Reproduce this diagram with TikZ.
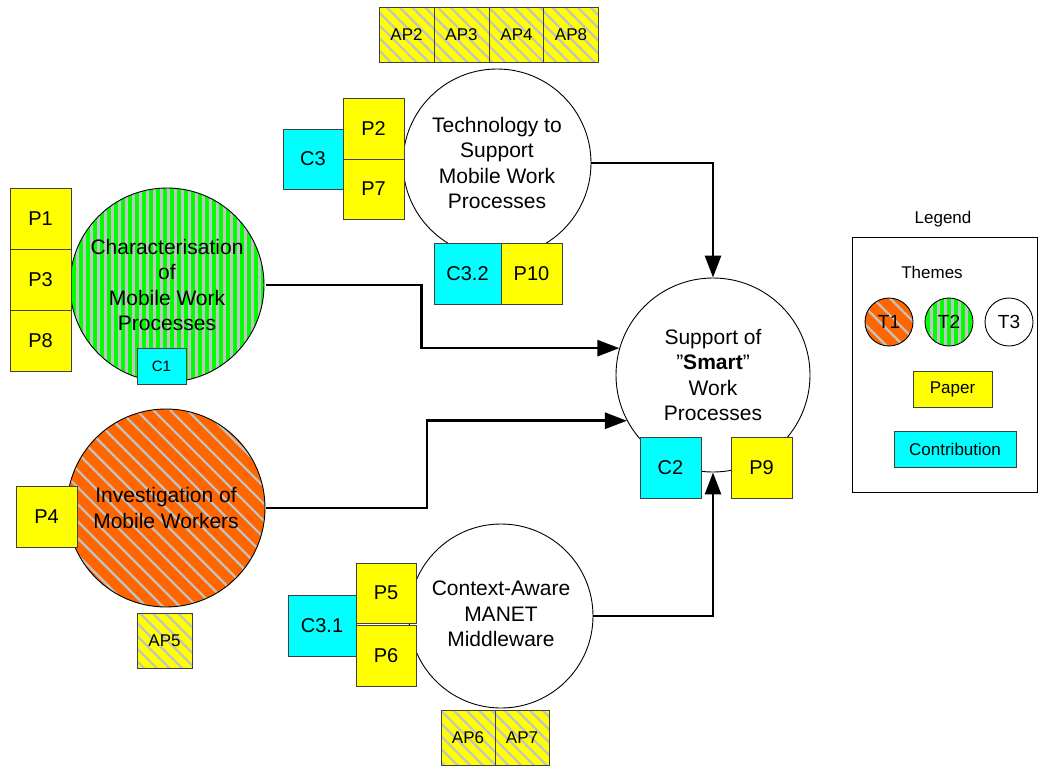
\documentclass[tikz,border=0pt]{standalone}
\usepackage{fontspec}
\setmainfont{Liberation Sans}
\usetikzlibrary{arrows.meta,patterns.meta}

\definecolor{paperyellow}{HTML}{FFFF00}
\definecolor{contribcyan}{HTML}{00FFFF}
\definecolor{themeorange}{HTML}{FF6600}
\definecolor{themegreen}{HTML}{00FF00}
\definecolor{stripegray}{HTML}{C0C4C4}
\definecolor{boxedge}{HTML}{404040}

\tikzset{
  themecircle/.style={circle, draw=black, line width=0.9pt, inner sep=0pt,
    align=center, font=\fontsize{21}{25.5}\selectfont},
  themeone/.style={themecircle, preaction={fill=themeorange},
    pattern={Lines[angle=-45,distance=12pt,line width=2.2pt]}, pattern color=stripegray},
  themetwo/.style={themecircle, preaction={fill=themegreen},
    pattern={Lines[angle=90,distance=7pt,line width=3pt]}, pattern color=stripegray},
  themethree/.style={themecircle, fill=white},
  anybox/.style={rectangle, draw=boxedge, line width=0.9pt, inner sep=0pt,
    minimum width=61pt, minimum height=61pt, font=\fontsize{20}{24}\selectfont},
  paperbox/.style={anybox, fill=paperyellow},
  contribbox/.style={anybox, fill=contribcyan},
  apbox/.style={anybox, minimum width=55pt, minimum height=55pt,
    font=\fontsize{17}{20}\selectfont, preaction={fill=paperyellow},
    pattern={Lines[angle=-45,distance=9pt,line width=2.2pt]}, pattern color=stripegray},
  legendtext/.style={font=\fontsize{17}{20}\selectfont},
  conn/.style={draw=black, line width=2.7pt,
    -{Triangle[length=22pt,width=16pt]}},
}

\begin{document}
\begin{tikzpicture}[x=1pt,y=-1pt]
\useasboundingbox (0,0) rectangle (1039,766);

% themes
\node[themethree, minimum size=188pt] (tech) at (497,163)
  {Technology to\\Support\\Mobile Work\\Processes};
\node[themetwo, minimum size=194pt] (char) at (167,285)
  {Characterisation\\of\\Mobile Work\\Processes};
\node[themeone, minimum size=198pt] (inv) at (166,508)
  {Investigation of\\Mobile Workers};
\node[themethree, minimum size=194pt] (support) at (713,375)
  {Support of\\”\textbf{Smart}”\\Work\\Processes};
\node[themethree, minimum size=184pt] (ctx) at (501,616)
  {\raisebox{5pt}{\begin{tabular}{@{}c@{}}Context-Aware\\MANET\\Middleware\end{tabular}}};

% additional papers above the technology theme
\node[apbox] (ap2) at (406.5,34.5) {AP2};
\node[apbox] (ap3) at (461.5,34.5) {AP3};
\node[apbox] (ap4) at (516.5,34.5) {AP4};
\node[apbox] (ap8) at (571,34.5) {AP8};

% technology theme: papers and contributions
\node[paperbox] (p2) at (373.5,128.5) {P2};
\node[paperbox, minimum height=60pt] (p7) at (373.5,189) {P7};
\node[contribbox, minimum width=60pt, minimum height=60pt] (c3) at (313,159) {C3};
\node[contribbox, minimum width=67pt] (c32) at (467.5,273.5) {C3.2};
\node[paperbox] (p10) at (531.5,273.5) {P10};

% characterisation theme
\node[paperbox] (p1) at (40.5,219) {P1};
\node[paperbox] (p3) at (40.5,279.5) {P3};
\node[paperbox] (p8) at (40.5,340.5) {P8};
\node[contribbox, minimum width=49pt, minimum height=36pt,
  font=\fontsize{15}{18}\selectfont] (c1) at (161.5,366) {C1};

% investigation theme
\node[paperbox] (p4) at (46.5,516.5) {P4};
\node[apbox] (ap5) at (164.5,640.5) {AP5};

% support theme
\node[contribbox] (c2) at (670.5,467.5) {C2};
\node[paperbox] (p9) at (761.5,467.5) {P9};

% middleware theme
\node[paperbox, minimum width=60pt, minimum height=60pt] (p5) at (386,593) {P5};
\node[paperbox, minimum width=60pt] (p6) at (386,655.5) {P6};
\node[contribbox, minimum width=68pt] (c31) at (322,625.5) {C3.1};
\node[apbox, minimum width=54pt] (ap6) at (468,737.5) {AP6};
\node[apbox, minimum width=54pt] (ap7) at (522,737.5) {AP7};

% legend
\node[legendtext] (legtitle) at (943,219) {Legend};
\draw[line width=0.9pt] (852,237) rectangle (1037,492);
\node[legendtext] (legthemes) at (932,272) {Themes};
\node[themeone, minimum size=48pt, font=\fontsize{19}{22}\selectfont] (t1) at (889,322) {T1};
\node[themetwo, minimum size=48pt, font=\fontsize{19}{22}\selectfont] (t2) at (949,322) {T2};
\node[themethree, minimum size=48pt, font=\fontsize{19}{22}\selectfont] (t3) at (1009,322) {T3};
\node[paperbox, minimum width=79pt, minimum height=36pt, font=\fontsize{17}{20}\selectfont]
  (legpaper) at (952.5,389) {Paper};
\node[contribbox, minimum width=122pt, minimum height=36pt, font=\fontsize{17}{20}\selectfont]
  (legcontrib) at (955,449) {Contribution};

% connectors into the support theme
\draw[conn] (tech.east) -| (support.north);
\draw[conn] (char.east) -- ++(156,0) |- (support.164);
\draw[conn] (inv.east) -- ++(161,0) |- (support.208);
\draw[conn] (ctx.east) -| (support.south);
\end{tikzpicture}
\end{document}
